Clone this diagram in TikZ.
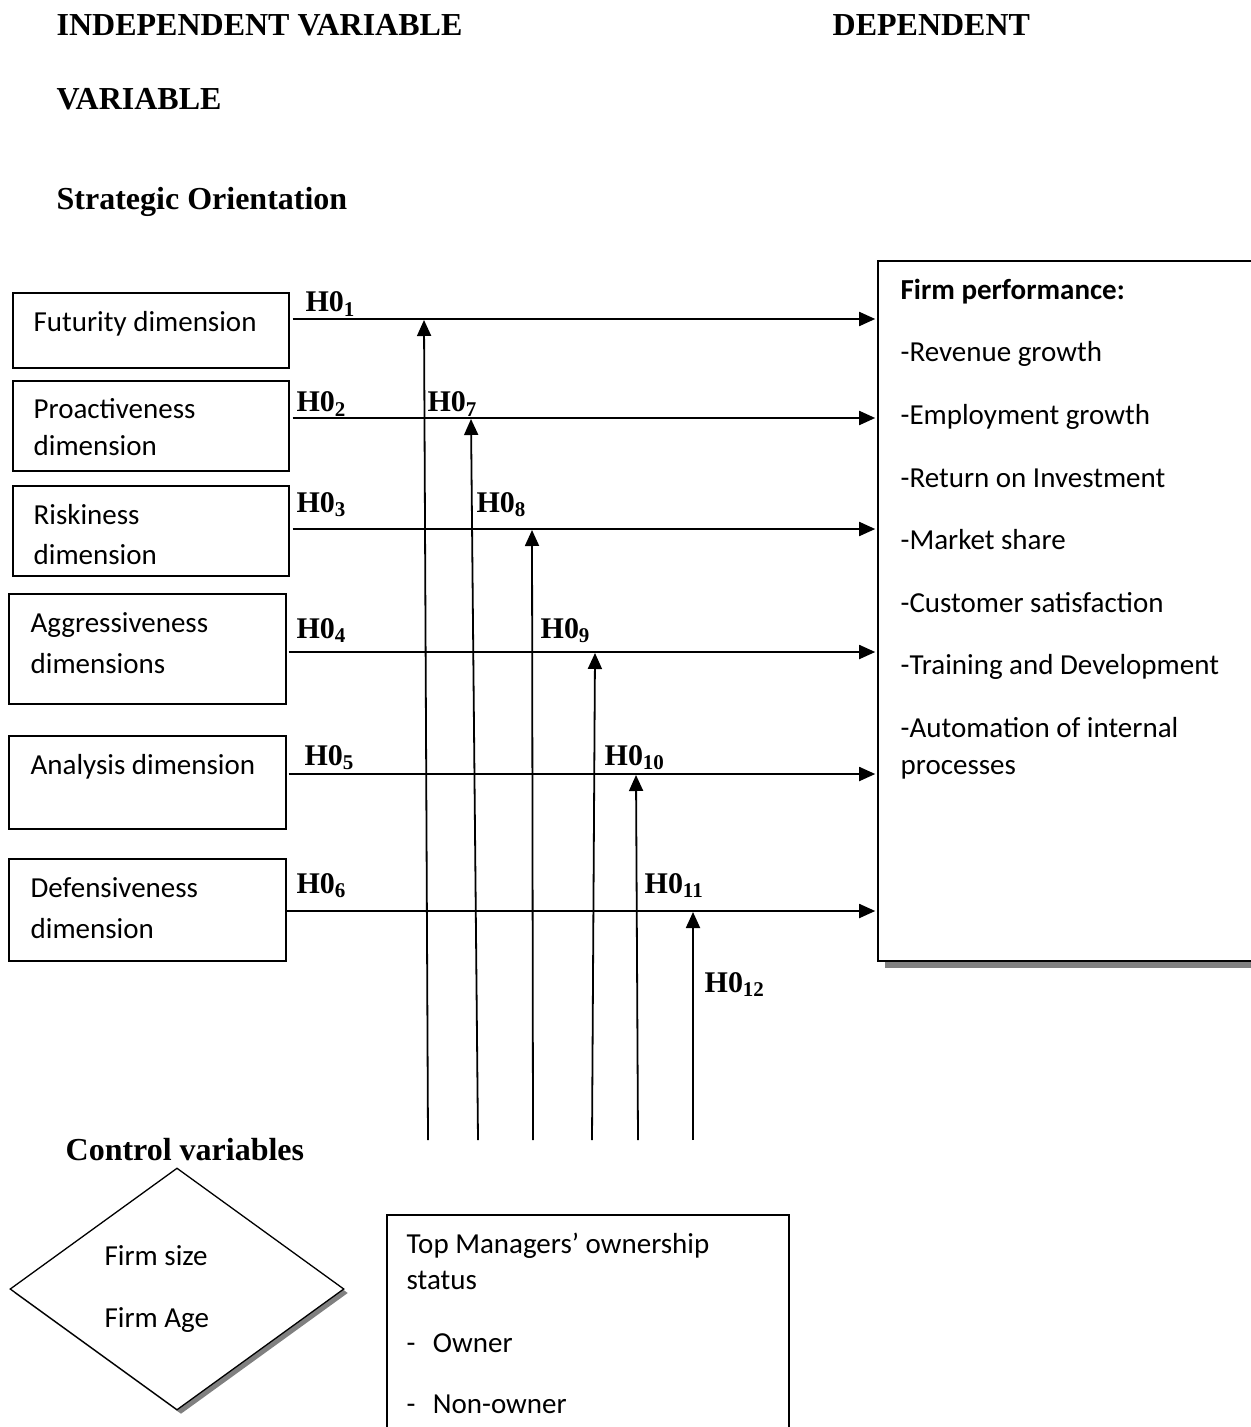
\documentclass[tikz,border=0pt]{standalone}
\usepackage{fontspec}
\setmainfont{Liberation Serif}
\newfontfamily\calibfont{Carlito}
\usetikzlibrary{arrows.meta,shapes.geometric,shadows}

\tikzset{every picture/.style={line width=0.65pt}}
\tikzset{
  dimbox/.style={draw, fill=white, inner sep=0pt, minimum width=138pt},
  boxtext/.style={anchor=base west, inner sep=0pt, font=\calibfont\fontsize{14.5}{17}\selectfont},
  headtext/.style={anchor=base west, inner sep=0pt, font=\bfseries\fontsize{16}{19}\selectfont},
  hyptext/.style={anchor=base west, inner sep=0pt, font=\bfseries\fontsize{15}{18}\selectfont},
  link/.style={line width=0.9pt, -{Triangle[length=8pt,width=7pt]}},
  greyshadow/.style={drop shadow={shadow xshift=#1, shadow yshift=-#1, fill=gray, opacity=1}}
}

\begin{document}
\begin{tikzpicture}[x=0.5pt,y=0.5pt,yscale=-1,xscale=1]
        \useasboundingbox (0,0) rectangle (1250,1427);

        % Text Node
        \node[headtext] (indep) at (56,36) {INDEPENDENT VARIABLE};
        % Text Node
        \node[headtext] (dep) at (832,36) {DEPENDENT};
        % Text Node
        \node[headtext] (var) at (56,110) {VARIABLE};
        % Text Node
        \node[headtext] (strat) at (56,210) {Strategic Orientation};

        %Shape: Rectangle [dependent]
        \node[draw, line width=0.8pt, fill=white, inner sep=0pt, minimum width=192pt, minimum height=350pt, greyshadow=3.5pt] (perf) at (1070,611) {};
        % Text Node
        \node[boxtext, font=\calibfont\bfseries\fontsize{14.5}{17}\selectfont] (perf0) at (900,300) {Firm performance:};
        \node[boxtext] (perf1) at (900,362) {-Revenue growth};
        \node[boxtext] (perf2) at (900,424.5) {-Employment growth};
        \node[boxtext] (perf3) at (900,487) {-Return on Investment};
        \node[boxtext] (perf4) at (900,549.5) {-Market share};
        \node[boxtext] (perf5) at (900,612) {-Customer satisfaction};
        \node[boxtext] (perf6) at (900,674.5) {-Training and Development};
        \node[boxtext] (perf7) at (900,737) {-Automation of internal};
        \node[boxtext] (perf8) at (900,774) {processes};

        %Shape: Rectangle [dimensions]
        \node[dimbox, minimum height=37.5pt] (fut) at (151,330.5) {};
        \node[dimbox, minimum height=45pt] (pro) at (151,426) {};
        \node[dimbox, minimum height=45pt] (risk) at (151,531) {};
        \node[dimbox, minimum width=138.5pt, minimum height=55pt] (aggr) at (147.5,649) {};
        \node[dimbox, minimum width=138.5pt, minimum height=46.5pt] (ana) at (147.5,782.5) {};
        \node[dimbox, minimum width=138.5pt, minimum height=51pt] (def) at (147.5,910) {};

        % Text Node
        \node[boxtext] (futa) at (33,332) {Futurity dimension};
        \node[boxtext] (proa) at (33,419) {Proactiveness};
        \node[boxtext] (prob) at (33,455) {dimension};
        \node[boxtext] (riska) at (33,524) {Riskiness};
        \node[boxtext] (riskb) at (33,564) {dimension};
        \node[boxtext] (aggra) at (30,632) {Aggressiveness};
        \node[boxtext] (aggrb) at (30,673) {dimensions};
        \node[boxtext] (anaa) at (30,774) {Analysis dimension};
        \node[boxtext] (defa) at (30,897) {Defensiveness};
        \node[boxtext] (defb) at (30,938) {dimension};

        % rows of the hypotheses
        \coordinate (r1) at (0,319);
        \coordinate (r2) at (0,418);
        \coordinate (r3) at (0,529);
        \coordinate (r4) at (0,652);
        \coordinate (r5) at (0,774);
        \coordinate (r6) at (0,911);

        %Straight Lines [H01 - H06]
        \draw[link] ([xshift=1.5pt]fut.east |- r1) -- ([xshift=-1pt]perf.west |- r1);
        \draw[link] ([xshift=1.5pt]pro.east |- r2) -- ([xshift=-1pt]perf.west |- r2);
        \draw[link] ([xshift=1.5pt]risk.east |- r3) -- ([xshift=-1pt]perf.west |- r3);
        \draw[link] ([xshift=1pt]aggr.east |- r4) -- ([xshift=-1pt]perf.west |- r4);
        \draw[link] ([xshift=1pt]ana.east |- r5) -- ([xshift=-1pt]perf.west |- r5);
        \draw[link] (def.east |- r6) -- ([xshift=-1pt]perf.west |- r6);

        % feet and heads of the moderating lines
        \coordinate (b1) at (428,1140);
        \coordinate (b2) at (478,1140);
        \coordinate (b3) at (533,1140);
        \coordinate (b4) at (592,1140);
        \coordinate (b5) at (638,1140);
        \coordinate (b6) at (693,1140);
        \coordinate (t1) at (424,320);
        \coordinate (t2) at (471,419);
        \coordinate (t3) at (532,530);
        \coordinate (t4) at (595,653);
        \coordinate (t5) at (636,775);
        \coordinate (t6) at (693,912);

        %Straight Lines [H07 - H012]
        \draw[link] (b1) -- (t1);
        \draw[link] (b2) -- (t2);
        \draw[link] (b3) -- (t3);
        \draw[link] (b4) -- (t4);
        \draw[link] (b5) -- (t5);
        \draw[link] (b6) -- (t6);

        % Text Node
        \node[hyptext] (h1) at (305,312) {H0\textsubscript{1}};
        \node[hyptext] (h2) at (296,412) {H0\textsubscript{2}};
        \node[hyptext] (h3) at (296,512) {H0\textsubscript{3}};
        \node[hyptext] (h4) at (296,638) {H0\textsubscript{4}};
        \node[hyptext] (h5) at (304,765) {H0\textsubscript{5}};
        \node[hyptext] (h6) at (296,893) {H0\textsubscript{6}};
        \node[hyptext] (h7) at (427,412) {H0\textsubscript{7}};
        \node[hyptext] (h8) at (476,512) {H0\textsubscript{8}};
        \node[hyptext] (h9) at (540,638) {H0\textsubscript{9}};
        \node[hyptext] (h10) at (604,765) {H0\textsubscript{10}};
        \node[hyptext] (h11) at (644,893) {H0\textsubscript{11}};
        \node[hyptext] (h12) at (704,992) {H0\textsubscript{12}};

        % Text Node
        \node[headtext] (ctrl) at (65,1160) {Control variables};

        %Shape: Diamond
        \node[diamond, draw, fill=white, inner sep=0pt, minimum width=167pt, minimum height=121pt, greyshadow=2pt] (ctrlbox) at (177,1289) {};
        \node[boxtext] (size) at (104,1265) {Firm size};
        \node[boxtext] (age) at (104,1327) {Firm Age};

        %Shape: Rectangle [ownership]
        \node[draw, fill=white, inner sep=0pt, minimum width=201pt, minimum height=115pt] (own) at (588,1330) {};
        \node[boxtext] (owna) at (406,1253) {Top Managers’ ownership};
        \node[boxtext] (ownb) at (406,1289) {status};
        \node[boxtext] (ownc) at (406,1352) {-\hspace{0.6em}Owner};
        \node[boxtext] (ownd) at (406,1413) {-\hspace{0.6em}Non-owner};

\end{tikzpicture}
\end{document}
